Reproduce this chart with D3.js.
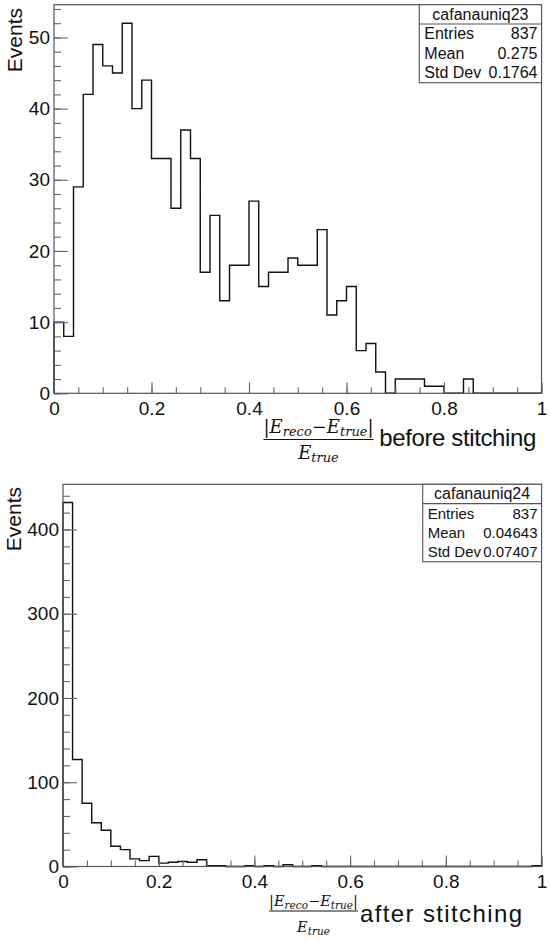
<!DOCTYPE html>
<html>
<head>
<meta charset="utf-8">
<script src="https://cdn.jsdelivr.net/npm/d3@7"></script>
<style>
  body { margin: 0; background: #fff; }
  svg { display: block; }
</style>
</head>
<body>
<div id="chart"></div>
<script>
// histogram contents, 50 bins of width 0.02 between 0 and 1
//- - - - - - - - - - - - - - - - - - - - - -
var beforeCounts = [10, 8, 29, 42, 49, 46, 45, 52, 40, 44,
                    33, 33, 26, 37, 33, 17, 25, 13, 18, 18,
                    27, 15, 17, 17, 19, 18, 18, 23, 11, 13,
                    15, 6, 7, 3, 0, 2, 2, 2, 1, 1,
                    0, 0, 2, 0, 0, 0, 0, 0, 0, 0];
var afterCounts = [432, 127, 75, 52, 43, 24, 20, 9, 7, 12,
                   4, 5, 6, 5, 8, 1, 1, 0, 0, 1,
                   0, 1, 0, 2, 0, 0, 1, 0, 0, 0,
                   0, 0, 0, 0, 0, 0, 0, 0, 0, 0,
                   0, 0, 0, 0, 0, 0, 0, 0, 0, 1];

var xRange       = [0, 1];
var xTickValues  = [0, 0.2, 0.4, 0.6, 0.8, 1];
var xTickLabels  = ['0', '0.2', '0.4', '0.6', '0.8', '1'];
var beforeYTicks = [0, 10, 20, 30, 40, 50];
var afterYTicks  = [0, 100, 200, 300, 400];

var histNames   = ['cafanauniq23', 'cafanauniq24'];
var statNames   = ['Entries', 'Mean', 'Std Dev'];
var beforeStats = ['837', '0.275', '0.1764'];
var afterStats  = ['837', '0.04643', '0.07407'];
var titleWords  = ['before stitching', 'after stitching'];
var yTitle      = 'Events';

var SANS  = '"Liberation Sans", Arial, Helvetica, sans-serif';
var SERIF = '"DejaVu Serif", "Liberation Serif", serif';

// one entry per pad (positions only, the values come from the arrays above)
//- - - - - - - - - - - - - - - - - - - - - -
var pads = [
  { counts: beforeCounts, yTicks: beforeYTicks, yMinor: 2, name: histNames[0], stats: beforeStats,
    title: titleWords[0], left: 54, right: 541.5, top: 4.7, bottom: 393.3,
    box: { x0: 419.3, y0: 4.7, h: 78, font: 16 }, yTitleAt: [22, 8],
    frac: { cx: 318.5, numY: 433, barY: 439.5, denY: 459, big: 18, small: 13, sub: 3 },
    word: { x: 379.3, y: 446, size: 24, len: 157 } },
  { counts: afterCounts, yTicks: afterYTicks, yMinor: 20, name: histNames[1], stats: afterStats,
    title: titleWords[1], left: 63, right: 541.5, top: 484.3, bottom: 866.5,
    box: { x0: 422.7, y0: 484.3, h: 77.4, font: 15 }, yTitleAt: [21, 487],
    frac: { cx: 313.5, numY: 906, barY: 911, denY: 932, big: 14.5, small: 10.5, sub: 2.5 },
    word: { x: 360, y: 922, size: 24, len: 162 } }
];

var svg = d3.select('#chart').append('svg')
  .attr('width', 550)
  .attr('height', 940);

// draws |E_reco - E_true| / E_true
//- - - - - - - - - - - - - - - - - - - - - -
var drawFraction = function (g, f) {
  var num = g.append('text')
    .attr('x', f.cx).attr('y', f.numY)
    .attr('text-anchor', 'middle')
    .style('font-family', SERIF)
    .style('font-size', f.big + 'px')
    .attr('fill', '#111');
  num.append('tspan').text('|');
  num.append('tspan').style('font-style', 'italic').text('E');
  num.append('tspan').style('font-style', 'italic').style('font-size', f.small + 'px')
    .attr('dy', f.sub).text('reco');
  num.append('tspan').attr('dy', -f.sub).text('\u2212');
  num.append('tspan').style('font-style', 'italic').text('E');
  num.append('tspan').style('font-style', 'italic').style('font-size', f.small + 'px')
    .attr('dy', f.sub).text('true');
  num.append('tspan').attr('dy', -f.sub).text('|');

  var w = num.node().getComputedTextLength();
  g.append('line')
    .attr('x1', f.cx - w / 2).attr('x2', f.cx + w / 2)
    .attr('y1', f.barY).attr('y2', f.barY)
    .attr('stroke', '#111').attr('stroke-width', 1.1);

  var den = g.append('text')
    .attr('x', f.cx).attr('y', f.denY)
    .attr('text-anchor', 'middle')
    .style('font-family', SERIF)
    .style('font-size', f.big + 'px')
    .attr('fill', '#111');
  den.append('tspan').style('font-style', 'italic').text('E');
  den.append('tspan').style('font-style', 'italic').style('font-size', f.small + 'px')
    .attr('dy', f.sub).text('true');
};

// stats box in the top right corner
//- - - - - - - - - - - - - - - - - - - - - -
var drawStats = function (g, p) {
  var b = p.box, x1 = p.right, rowH = (b.h - 19.3) / 3;
  g.append('rect')
    .attr('x', b.x0).attr('y', b.y0)
    .attr('width', x1 - b.x0).attr('height', b.h)
    .attr('fill', '#fff').attr('stroke', '#555').attr('stroke-width', 1.1);
  g.append('line')
    .attr('x1', b.x0).attr('x2', x1)
    .attr('y1', b.y0 + 19.3).attr('y2', b.y0 + 19.3)
    .attr('stroke', '#555').attr('stroke-width', 1.1);
  g.append('text')
    .attr('x', (b.x0 + x1) / 2).attr('y', b.y0 + 15)
    .attr('text-anchor', 'middle')
    .style('font-family', SANS).style('font-size', '16px')
    .attr('fill', '#111')
    .text(p.name);

  statNames.forEach(function (s, i) {
    var yy = b.y0 + 19.3 + rowH * (i + 1) - 4.3;
    g.append('text')
      .attr('x', b.x0 + 5).attr('y', yy)
      .style('font-family', SANS).style('font-size', b.font + 'px')
      .attr('fill', '#111')
      .text(s);
    g.append('text')
      .attr('x', x1 - 4).attr('y', yy)
      .attr('text-anchor', 'end')
      .style('font-family', SANS).style('font-size', b.font + 'px')
      .attr('fill', '#111')
      .text(p.stats[i]);
  });
};

pads.forEach(function (p) {
  var g = svg.append('g');
  var yMax = d3.max(p.counts) * 1.05;

  var x = d3.scaleLinear().domain(xRange).range([p.left, p.right]);
  var y = d3.scaleLinear().domain([0, yMax]).range([p.bottom, p.top]);

  // histogram outline (step line, drops to zero at both ends)
  var binW = (xRange[1] - xRange[0]) / p.counts.length;
  var pts = [[x(xRange[0]), y(0)]];
  p.counts.forEach(function (c, i) {
    pts.push([x(xRange[0] + i * binW), y(c)]);
    pts.push([x(xRange[0] + (i + 1) * binW), y(c)]);
  });
  pts.push([x(xRange[1]), y(0)]);

  g.append('path')
    .attr('d', d3.line()(pts))
    .attr('fill', 'none')
    .attr('stroke', '#111')
    .attr('stroke-width', 1.4)
    .attr('stroke-linejoin', 'miter');

  // axes, ticks pointing inside the frame like ROOT
  var xMinor = g.append('g')
    .attr('transform', 'translate(0,' + p.bottom + ')')
    .call(d3.axisBottom(x).tickValues(x.ticks(20)).tickSize(-6).tickFormat(''));
  var xMajor = g.append('g')
    .attr('transform', 'translate(0,' + p.bottom + ')')
    .call(d3.axisBottom(x).tickValues(xTickValues).tickSize(-11).tickPadding(8.5)
      .tickFormat(function (d, i) { return xTickLabels[i]; }));
  var yMinor = g.append('g')
    .attr('transform', 'translate(' + p.left + ',0)')
    .call(d3.axisLeft(y).tickValues(d3.range(0, yMax, p.yMinor)).tickSize(-7).tickFormat(''));
  var yMajor = g.append('g')
    .attr('transform', 'translate(' + p.left + ',0)')
    .call(d3.axisLeft(y).tickValues(p.yTicks).tickSize(-14).tickPadding(4));

  [xMinor, xMajor, yMinor, yMajor].forEach(function (a) {
    a.select('.domain').remove();
    a.selectAll('line').attr('stroke', '#666').attr('stroke-width', 1.1);
    a.selectAll('text')
      .style('font-family', SANS)
      .style('font-size', '19px')
      .attr('fill', '#111');
  });

  // frame
  g.append('rect')
    .attr('x', p.left).attr('y', p.top)
    .attr('width', p.right - p.left).attr('height', p.bottom - p.top)
    .attr('fill', 'none').attr('stroke', '#555').attr('stroke-width', 1.2);

  // y title
  g.append('text')
    .attr('transform', 'translate(' + p.yTitleAt[0] + ',' + p.yTitleAt[1] + ') rotate(-90)')
    .attr('text-anchor', 'end')
    .style('font-family', SANS).style('font-size', '21px')
    .attr('fill', '#111')
    .text(yTitle);

  // x title = fraction + words
  drawFraction(g, p.frac);
  g.append('text')
    .attr('x', p.word.x).attr('y', p.word.y)
    .attr('textLength', p.word.len)
    .attr('lengthAdjust', 'spacing')
    .style('font-family', SANS).style('font-size', p.word.size + 'px')
    .attr('fill', '#111')
    .text(p.title);

  drawStats(g, p);
});
</script>
</body>
</html>
